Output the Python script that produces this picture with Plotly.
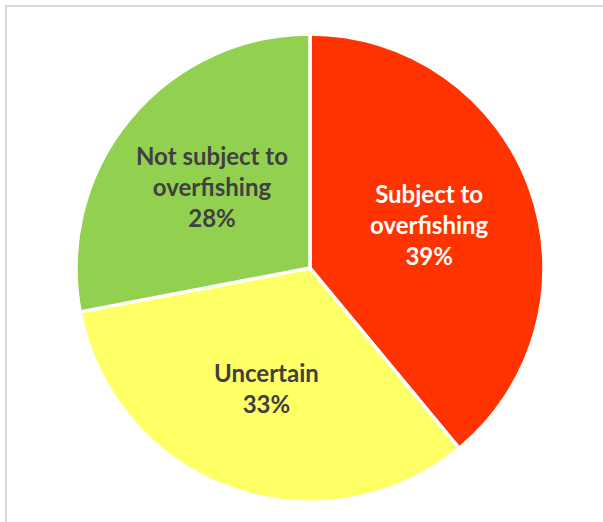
import math
import plotly.graph_objects as go

labels = ["Subject to<br>overfishing", "Uncertain", "Not subject to<br>overfishing"]
values = [39, 33, 28]
colors = ["#FF3300", "#FFFF66", "#92D050"]
text_colors = ["#FFFFFF", "#404040", "#404040"]

W, H = 603, 522
CX, CY, R = 310, 268, 234  # pixel geometry of the pie

fig = go.Figure(go.Pie(
    labels=labels,
    values=values,
    sort=False,
    direction="clockwise",
    rotation=0,
    marker=dict(colors=colors, line=dict(color="#FFFFFF", width=3.5)),
    textinfo="none",
    hoverinfo="none",
    showlegend=False,
    domain=dict(x=[(CX - R) / W, (CX + R) / W], y=[(H - CY - R) / H, (H - CY + R) / H]),
))

# labels placed along each slice's mid-angle
total = sum(values)
cum = 0
for lab, v, tc in zip(labels, values, text_colors):
    mid = (cum + v / 2) / total * 2 * math.pi
    cum += v
    r = 0.545 * R
    px = CX + r * math.sin(mid)
    py = CY - r * math.cos(mid)
    pct = round(v / total * 100)
    fig.add_annotation(
        x=px / W, y=1 - py / H, xref="paper", yref="paper",
        text=f"{lab}<br>{pct}%", showarrow=False,
        font=dict(family="Lato", size=24, color=tc, weight="bold"),
        align="center", xanchor="center", yanchor="middle",
    )

fig.add_shape(type="rect", xref="paper", yref="paper",
              x0=6 / W, x1=1.1, y0=-0.1, y1=1 - 6 / H,
              line=dict(color="#D9D9D9", width=2), fillcolor="rgba(0,0,0,0)", layer="above")

fig.update_layout(
    width=W, height=H,
    margin=dict(l=0, r=0, t=0, b=0),
    paper_bgcolor="#FFFFFF",
    plot_bgcolor="#FFFFFF",
)

fig.write_html("out.html", config={"displayModeBar": False},
               post_script="document.body.style.margin='0';document.body.style.overflow='hidden';")
